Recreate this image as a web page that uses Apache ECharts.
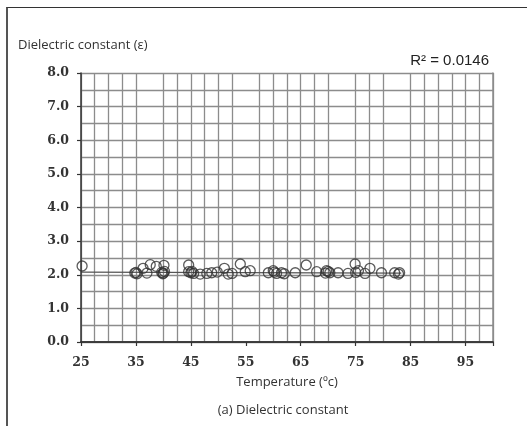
<!DOCTYPE html>
<html>
<head>
<meta charset="utf-8">
<script src="https://cdn.jsdelivr.net/npm/echarts@6/dist/echarts.min.js"></script>
<style>
html,body{margin:0;padding:0;background:#fff;}
#wrap{position:relative;width:527px;height:426px;overflow:hidden;}
#c{position:absolute;left:0;top:0;width:527px;height:426px;}
#frame{position:absolute;left:6px;top:7px;width:530px;height:430px;border-left:2.5px solid #555;border-top:1.5px solid #333;pointer-events:none;}
.t{position:absolute;font-family:"Open Sans";font-size:13px;color:#333;white-space:nowrap;text-align:center;line-height:16px;pointer-events:none;}
</style>
</head>
<body>
<div id="wrap">
<div id="c"></div>
<div id="frame"></div>
<div id="xname" class="t" style="left:187px;width:200px;top:373px;"></div>
<div id="caption" class="t" style="left:183px;width:200px;top:401px;"></div>
</div>
<script>
// Data
const temperatures = [25.2, 34.8, 35.0, 35.2, 36.3, 37.0, 37.6, 38.7, 39.7, 39.9, 40.0, 40.1, 40.2,
  44.6, 44.6, 45.0, 45.2, 45.5, 46.7, 47.9, 48.8, 49.8, 51.1, 51.8, 52.5, 54.0, 54.9, 55.8,
  59.1, 60.0, 60.2, 60.6, 61.5, 62.0, 64.0, 66.0, 67.9, 69.5, 69.7, 70.0, 70.3, 71.8, 73.6,
  74.9, 75.0, 75.5, 76.7, 77.6, 79.7, 82.1, 82.8, 83.0];
const dielectric = [2.26, 2.05, 2.07, 2.03, 2.19, 2.05, 2.30, 2.25, 2.07, 2.03, 2.05, 2.28, 2.10,
  2.29, 2.09, 2.06, 2.10, 2.04, 2.02, 2.04, 2.06, 2.08, 2.19, 2.02, 2.04, 2.32, 2.09, 2.12,
  2.06, 2.12, 2.08, 2.04, 2.06, 2.03, 2.06, 2.29, 2.09, 2.05, 2.12, 2.10, 2.06, 2.06, 2.04,
  2.32, 2.07, 2.12, 2.04, 2.19, 2.06, 2.06, 2.02, 2.06];
const trendX = [25, 83.3];
const trendY = [2.08, 2.05];
const xTickLabels = ['25', '35', '45', '55', '65', '75', '85', '95'];
const yTickLabels = ['0.0', '1.0', '2.0', '3.0', '4.0', '5.0', '6.0', '7.0', '8.0'];
const rSquaredText = 'R² = 0.0146';
const titleText = 'Dielectric constant (ε)';
const xName = 'Temperature (ºc)';
const captionText = '(a) Dielectric constant';

document.getElementById('xname').textContent = xName;
document.getElementById('caption').textContent = captionText;

const points = temperatures.map((t, i) => [t, dielectric[i]]);
const trend = trendX.map((t, i) => [t, trendY[i]]);

// minor vertical grid (every 2.5); a few lines absent in the reference
const minorMissing = [37.5, 55, 72.5, 82.5];
const vColors = [];
for (let v = 25; v <= 100.001; v += 2.5) {
  vColors.push(minorMissing.some(m => Math.abs(m - v) < 0.01) ? 'rgba(0,0,0,0)' : '#8c8c8c');
}

const chart = echarts.init(document.getElementById('c'));
chart.setOption({
  animation: false,
  grid: { left: 81, right: 34, top: 73, bottom: 84, containLabel: false },
  xAxis: [{
    type: 'value', min: 25, max: 100, interval: 10, position: 'bottom', z: 20,
    axisLine: { show: true, lineStyle: { color: '#333', width: 1.5 } },
    axisTick: { show: true, length: 4, lineStyle: { color: '#333', width: 1.2 } },
    axisLabel: {
      margin: 14, fontFamily: 'DejaVu Serif', fontSize: 12.5, fontWeight: 'bold', color: '#333',
      hideOverlap: false,
      formatter: v => { const s = String(Math.round(v)); return xTickLabels.includes(s) ? s : ''; }
    },
    splitLine: { show: false }
  }, {
    type: 'value', min: 25, max: 100, interval: 2.5, position: 'top',
    axisLine: { show: true, lineStyle: { color: '#444', width: 1.5 } },
    axisTick: { show: false }, axisLabel: { show: false },
    splitLine: { show: true, lineStyle: { color: vColors, width: 1.3 } }
  }],
  yAxis: [{
    type: 'value', min: 0, max: 8, interval: 1, position: 'left', z: 20,
    axisLine: { show: true, lineStyle: { color: '#333', width: 1.5 } },
    axisTick: { show: true, length: 4, lineStyle: { color: '#333', width: 1.2 } },
    axisLabel: {
      margin: 12, fontFamily: 'DejaVu Serif', fontSize: 12.5, fontWeight: 'bold', color: '#333',
      formatter: v => { const s = v.toFixed(1); return yTickLabels.includes(s) ? s : ''; }
    },
    splitLine: { show: false }
  }, {
    type: 'value', min: 0, max: 8, interval: 0.5, position: 'right',
    axisLine: { show: true, lineStyle: { color: '#8c8c8c', width: 1.5 } },
    axisTick: { show: false }, axisLabel: { show: false },
    splitLine: { show: true, lineStyle: { color: '#8c8c8c', width: 1.3 } }
  }],
  series: [{
    type: 'line', data: trend, xAxisIndex: 0, yAxisIndex: 0,
    symbol: 'none', lineStyle: { color: '#555', width: 1.2 }, z: 2
  }, {
    type: 'scatter', data: points, xAxisIndex: 0, yAxisIndex: 0,
    symbol: 'circle', symbolSize: 10,
    itemStyle: { color: 'rgba(0,0,0,0)', borderColor: '#333', borderWidth: 1.3 }, z: 3
  }],
  graphic: [
    { type: 'text', left: 18, top: 39, style: { text: titleText, font: '13px "Open Sans"', fill: '#333' } },
    { type: 'text', right: 38, top: 53, style: { text: rSquaredText, font: '15px "Liberation Sans"', fill: '#222' } }
  ]
});
</script>
</body>
</html>
